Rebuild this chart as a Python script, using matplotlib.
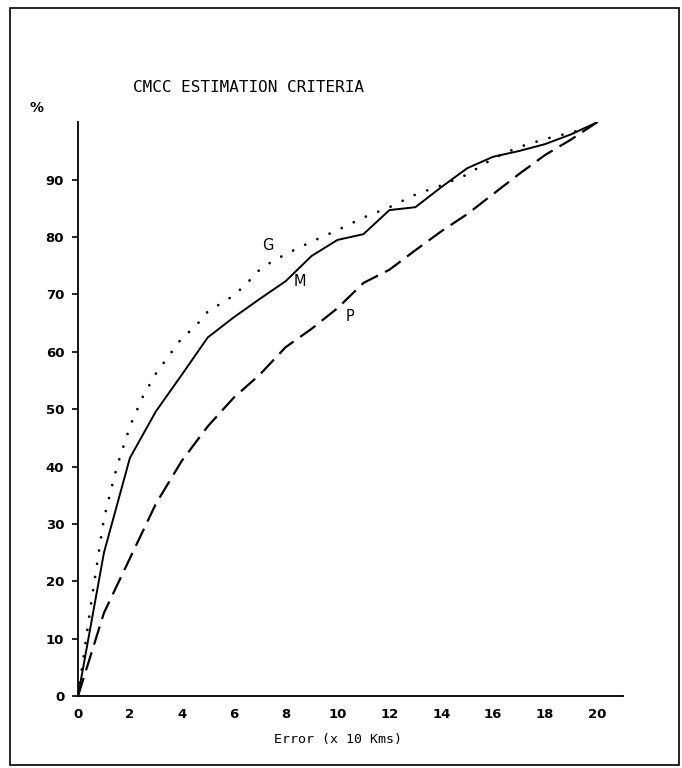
import matplotlib
matplotlib.use("Agg")
import matplotlib.pyplot as plt
from matplotlib.patches import Rectangle

# Data
M_x = [0, 0.5, 1, 2, 3, 4, 5, 6, 7, 8, 9, 10, 11, 12, 13, 14, 15, 16, 17, 18, 19, 20]
M_y = [0, 12.5, 25, 41.5, 49.6, 56, 62.5, 66, 69.2, 72.3, 76.7, 79.5, 80.5, 84.7, 85.2,
       88.7, 92, 94, 95, 96.2, 97.9, 100]

G_x = [0, 0.5, 1, 1.5, 2, 2.5, 3, 3.5, 4, 4.5, 5, 5.5, 6, 6.5, 7, 7.5, 8, 9, 10, 11, 12,
       13, 14, 15, 16, 17, 18, 19, 20]
G_y = [0, 16, 31, 40, 47, 52.2, 56.2, 59.3, 62.4, 64.3, 67, 68.4, 69.8, 71.9, 74.3, 75.8,
       77, 79.2, 81.2, 83.4, 85.2, 87.4, 89, 90.9, 93.7, 95.7, 97.1, 98.2, 99.5]

P_x = [0, 1, 2, 3, 4, 5, 6, 7, 8, 9, 10, 11, 12, 13, 14, 15, 16, 17, 18, 19, 20]
P_y = [0, 14.5, 24, 33.5, 41, 47, 52, 56, 60.8, 64, 67.6, 72, 74.3, 77.7, 81, 84, 87.5,
       91, 94.3, 97, 100]

x_ticks = [0, 2, 4, 6, 8, 10, 12, 14, 16, 18, 20]
y_ticks = [0, 10, 20, 30, 40, 50, 60, 70, 80, 90]

title = "CMCC ESTIMATION CRITERIA"
x_label = "Error (x 10 Kms)"
y_unit = "%"
curve_labels = [("G", 7.3, 78.6), ("M", 8.55, 72.2), ("P", 10.5, 66.2)]

fig = plt.figure(figsize=(6.82, 7.68), dpi=100)
ax = fig.add_axes([0.1144, 0.09375, 0.799, 0.747])

ax.plot(M_x, M_y, color="black", lw=1.4, solid_joinstyle="miter")
ax.plot(G_x, G_y, color="black", lw=2.0, linestyle=(0, (0.01, 4.8)),
        dash_capstyle="round")
ax.plot(P_x, P_y, color="black", lw=1.6, linestyle=(0, (8.5, 3.6)))

for lab, lx, ly in curve_labels:
    ax.text(lx, ly, lab, ha="center", va="center", fontsize=10.5,
            family="DejaVu Sans", color="black")

ax.set_xlim(0, 21)
ax.set_ylim(0, 100)
ax.set_xticks(x_ticks)
ax.set_yticks(y_ticks)
ax.tick_params(axis="x", length=0, pad=9, labelsize=9.5)
ax.tick_params(axis="y", length=4, width=1.2, pad=6, labelsize=9.5)
for t in ax.get_xticklabels() + ax.get_yticklabels():
    t.set_fontweight("bold")
for s in ["top", "right"]:
    ax.spines[s].set_visible(False)
for s in ["left", "bottom"]:
    ax.spines[s].set_linewidth(1.3)

fig.text(0.5 * (78 + 597) / 682, 1 - 740 / 768, x_label, ha="center", va="center",
         family="DejaVu Sans Mono", fontsize=9.5)
fig.text(0.364, 1 - 88 / 768, title, ha="center", va="center",
         family="DejaVu Sans Mono", fontsize=11.5)
fig.text(37 / 682, 1 - 108 / 768, y_unit, ha="center", va="center",
         fontsize=10, fontweight="bold")

fig.patches.append(Rectangle((10 / 682, 3 / 768), 669 / 682, 757 / 768,
                             transform=fig.transFigure, fill=False,
                             edgecolor="black", lw=1.2))

fig.savefig("out.png", dpi=100)
